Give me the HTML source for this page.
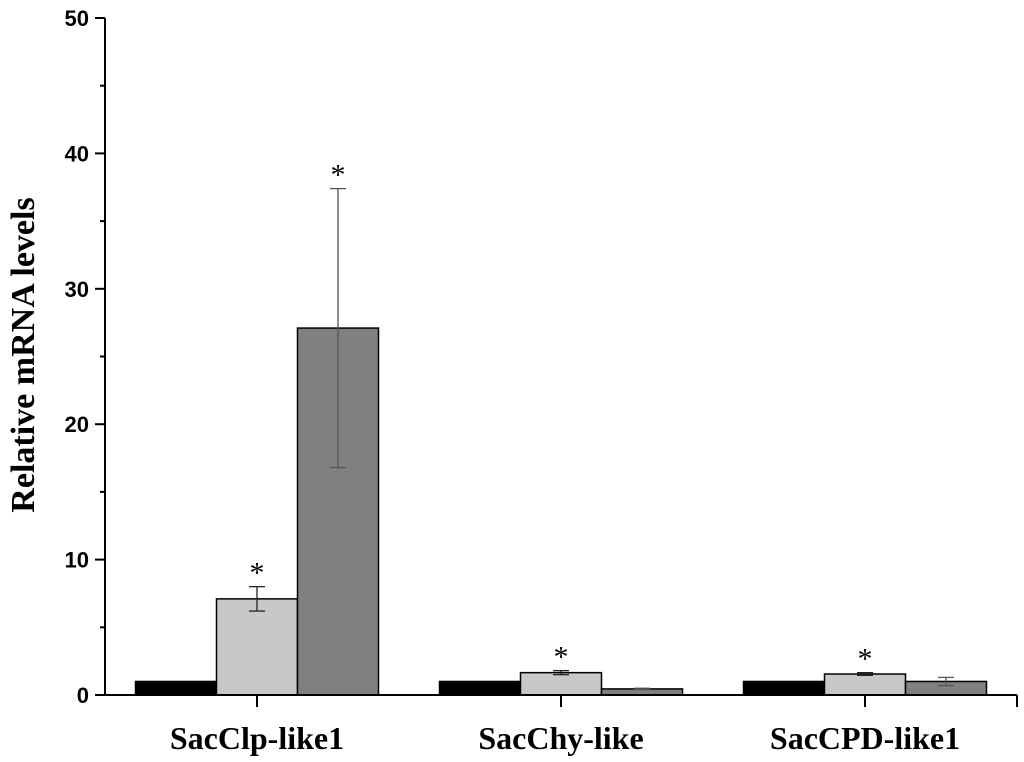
<!DOCTYPE html>
<html><head><meta charset="utf-8"><style>body{margin:0;background:#fff}svg{display:block}text{font-family:"Liberation Serif",serif;font-weight:bold;fill:#000}</style></head>
<body>
<svg width="1024" height="762" id="c"></svg>
<script>
const categories=["SacClp-like1","SacChy-like","SacCPD-like1"];
const seriesControl=[1,1,1];
const seriesA=[7.1,1.65,1.55];
const seriesB=[27.1,0.45,1.0];
const errA=[0.9,0.15,0.1];
const errB=[10.3,0.05,0.3];
const sigA=[true,true,true];
const sigB=[true,false,false];
const yTicks=[0,10,20,30,40,50];
const ns="http://www.w3.org/2000/svg",svg=document.getElementById('c');
const X0=105,X1=1017,Y0=695,Y1=18,ymax=50;
const y=v=>Y0-(v/ymax)*(Y0-Y1);
const band=(X1-X0)/categories.length;
const cx=i=>X0+band*(i+0.5);
const bw=81;
function el(t,a,p){const e=document.createElementNS(ns,t);for(const k in a)e.setAttribute(k,a[k]);(p||svg).appendChild(e);return e;}
const series=[{v:seriesControl,c:"#000",e:null,s:null,n:"control"},{v:seriesA,c:"#c8c8c8",e:errA,s:sigA,n:"a"},{v:seriesB,c:"#808080",e:errB,s:sigB,n:"b"}];
categories.forEach((cat,i)=>{
  series.forEach((s,j)=>{
    const x=cx(i)+(j-1.5)*bw;
    const r=el('rect',{x:x,y:y(s.v[i]),width:bw,height:Y0-y(s.v[i]),fill:s.c,stroke:"#000","stroke-width":1.5});
    
    
    if(s.e){
      const m=x+bw/2,hi=y(s.v[i]+s.e[i]),lo=y(s.v[i]-s.e[i]);
      const g=el('g',{stroke:s.n=="b"?"#555":"#222","stroke-width":1.3});
      
      
      el('line',{x1:m,x2:m,y1:hi,y2:lo},g);
      el('line',{x1:m-8,x2:m+8,y1:hi,y2:hi},g);
      el('line',{x1:m-8,x2:m+8,y1:lo,y2:lo},g);
      if(s.s[i]){
        const t=el('text',{x:m,y:hi-4,"text-anchor":"middle","font-size":30,style:"font-weight:normal"});
        t.textContent="*";
        
        
      }
    }
  });
  el('line',{x1:cx(i),x2:cx(i),y1:Y0,y2:Y0+12,stroke:"#000","stroke-width":2});
  const t=el('text',{x:cx(i),y:749,"text-anchor":"middle","font-size":32});
  t.textContent=cat;
  
  
});
const ax=el('g',{stroke:"#000","stroke-width":2});


el('line',{x1:X0,x2:X0,y1:Y1,y2:Y0},ax);
el('line',{x1:X0,x2:X1,y1:Y0,y2:Y0},ax);
el('line',{x1:X1,x2:X1,y1:Y0,y2:Y0+12},ax);
yTicks.forEach(v=>{
  el('line',{x1:X0-10,x2:X0,y1:y(v),y2:y(v)},ax);
  if(v<50)el('line',{x1:X0-5,x2:X0,y1:y(v+5),y2:y(v+5)},ax);
  const t=el('text',{x:89,y:y(v)+8,"text-anchor":"end","font-size":22,style:"font-family:'Liberation Sans',sans-serif"});
  t.textContent=v;
  
  
});
const yt=el('text',{x:0,y:0,transform:"translate(34,355) rotate(-90)","text-anchor":"middle","font-size":34});
yt.textContent="Relative mRNA levels";


</script>
</body></html>
